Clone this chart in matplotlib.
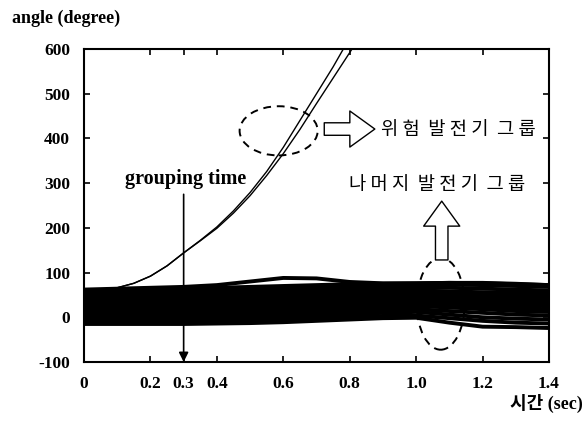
import numpy as np
import matplotlib
matplotlib.use("Agg")
import matplotlib.pyplot as plt
from matplotlib.patches import Ellipse, FancyArrowPatch

plt.rcParams['axes.unicode_minus'] = False

# time axis for the band of generators (sec)
t_band = [0.0, 0.1, 0.2, 0.3, 0.4, 0.5, 0.6, 0.7, 0.8, 0.9, 1.0, 1.1, 1.2, 1.3, 1.4]

# remaining generators (degree)
band = [
    [62, 64, 66, 68, 72, 80, 88, 87, 79, 76, 76, 77, 77, 75, 72],
    [58, 60, 62, 64, 66, 68, 70, 72, 74, 75, 76, 77, 76, 74, 72],
    [55, 55, 56, 58, 60, 62, 64, 66, 68, 70, 72, 73, 72, 70, 68],
    [50, 50, 51, 52, 54, 56, 58, 60, 62, 64, 66, 66, 64, 62, 60],
    [45, 46, 47, 48, 50, 52, 54, 56, 58, 60, 60, 58, 56, 55, 54],
    [40, 40, 41, 42, 44, 46, 48, 50, 52, 54, 56, 54, 52, 50, 50],
    [35, 35, 36, 38, 40, 42, 44, 46, 48, 50, 50, 48, 46, 45, 44],
    [30, 30, 31, 32, 34, 36, 38, 40, 42, 44, 45, 44, 42, 40, 40],
    [25, 25, 26, 28, 30, 32, 34, 36, 38, 40, 42, 40, 38, 36, 35],
    [20, 20, 21, 22, 24, 26, 28, 30, 32, 35, 38, 36, 34, 32, 30],
    [15, 15, 16, 17, 18, 20, 22, 25, 28, 32, 35, 32, 28, 26, 25],
    [10, 10, 10, 11, 12, 14, 16, 20, 24, 28, 30, 26, 22, 20, 18],
    [5, 5, 5, 5, 6, 8, 10, 14, 18, 22, 25, 22, 18, 14, 12],
    [0, 0, 0, 0, 1, 2, 4, 8, 12, 16, 18, 14, 10, 6, 4],
    [-5, -5, -5, -5, -4, -3, -1, 2, 6, 10, 12, 6, 0, -3, -5],
    [-10, -10, -10, -10, -9, -8, -6, -3, 0, 3, 4, -2, -8, -12, -14],
    [-15, -15, -15, -15, -14, -13, -11, -8, -5, -2, -1, -12, -21, -22, -24],
]

# the two runaway (critical) generators
t_crit1 = [0.0, 0.05, 0.1, 0.15, 0.2, 0.25, 0.3, 0.35, 0.4, 0.45, 0.5, 0.55, 0.6, 0.65, 0.7, 0.75, 0.79]
crit1 = [57, 60, 66, 76, 92, 115, 144, 172, 202, 238, 279, 326, 380, 440, 500, 560, 612]
t_crit2 = [0.0, 0.05, 0.1, 0.15, 0.2, 0.25, 0.3, 0.35, 0.4, 0.45, 0.5, 0.55, 0.6, 0.65, 0.7, 0.75, 0.8, 0.82]
crit2 = [57, 60, 66, 76, 92, 115, 144, 171, 199, 233, 272, 317, 366, 420, 478, 535, 592, 615]

x_ticks = [0, 0.2, 0.3, 0.4, 0.6, 0.8, 1.0, 1.2, 1.4]
x_ticklabels = ['0', '0.2', '0.3', '0.4', '0.6', '0.8', '1.0', '1.2', '1.4']
y_ticks = [-100, 0, 100, 200, 300, 400, 500, 600]

grouping_time = 0.3

serif = ['Liberation Serif', 'DejaVu Serif']
kr = ['Noto Sans CJK KR', 'DejaVu Sans']

fig = plt.figure(figsize=(5.88, 4.24), dpi=100)
ax = fig.add_axes([84 / 588, 62 / 424, 465 / 588, 313 / 424])

for row in band:
    ax.plot(t_band, row, color='black', lw=2.8, solid_capstyle='butt')
ax.plot(t_crit1, crit1, color='black', lw=1.0)
ax.plot(t_crit2, crit2, color='black', lw=1.0)

ax.set_xlim(0, 1.4)
ax.set_ylim(-100, 600)
ax.set_xticks(x_ticks)
ax.set_xticklabels(x_ticklabels)
ax.set_yticks(y_ticks)
ax.tick_params(direction='in', length=4, width=1.2, top=True, right=True, pad=10)
for lab in ax.get_xticklabels() + ax.get_yticklabels():
    lab.set_fontfamily(serif)
    lab.set_fontweight('bold')
    lab.set_fontsize(12.5)
for sp in ax.spines.values():
    sp.set_linewidth(1.5)

# grouping time marker
ax.annotate('', xy=(grouping_time, -100), xytext=(grouping_time, 275),
            arrowprops=dict(arrowstyle='-|>', color='black', lw=1.2,
                            mutation_scale=14, shrinkA=0, shrinkB=0))
ax.text(grouping_time + 0.006, 288, 'grouping time', ha='center', va='bottom',
        fontfamily=serif, fontweight='bold', fontsize=14.5)

# dashed ellipses
ax.add_patch(Ellipse((0.586, 417), 0.235, 110, fill=False, ls=(0, (4, 3)), lw=1.4))
ax.add_patch(Ellipse((1.074, 30), 0.144, 205, fill=False, ls=(0, (4, 3)), lw=1.4))

# hollow arrows
arr_style = 'simple,head_length=0.9,head_width=1.3,tail_width=0.45'
ax.add_patch(FancyArrowPatch((0.715, 421), (0.884, 421), arrowstyle=arr_style,
                             mutation_scale=20, fc='white', ec='black', lw=1.0))
ax.add_patch(FancyArrowPatch((1.077, 122), (1.077, 266), arrowstyle=arr_style,
                             mutation_scale=20, fc='white', ec='black', lw=1.0))

ax.text(0.893, 421, '위 험  발 전 기  그 룹', ha='left', va='center',
        fontfamily=kr, fontweight='medium', fontsize=13.5, clip_on=False)
ax.text(0.798, 298, '나 머 지  발 전 기  그 룹', ha='left', va='center',
        fontfamily=kr, fontweight='medium', fontsize=13.5)

fig.text(12 / 588, 1 - 18 / 424, 'angle (degree)', ha='left', va='center',
         fontfamily=serif, fontweight='bold', fontsize=13)
fig.text(583 / 588, 1 - 403 / 424, '시간 (sec)', ha='right', va='center',
         fontfamily=['Liberation Serif', 'Noto Sans CJK KR'], fontweight='bold', fontsize=13)

fig.savefig('out.png', dpi=100, facecolor='white')
